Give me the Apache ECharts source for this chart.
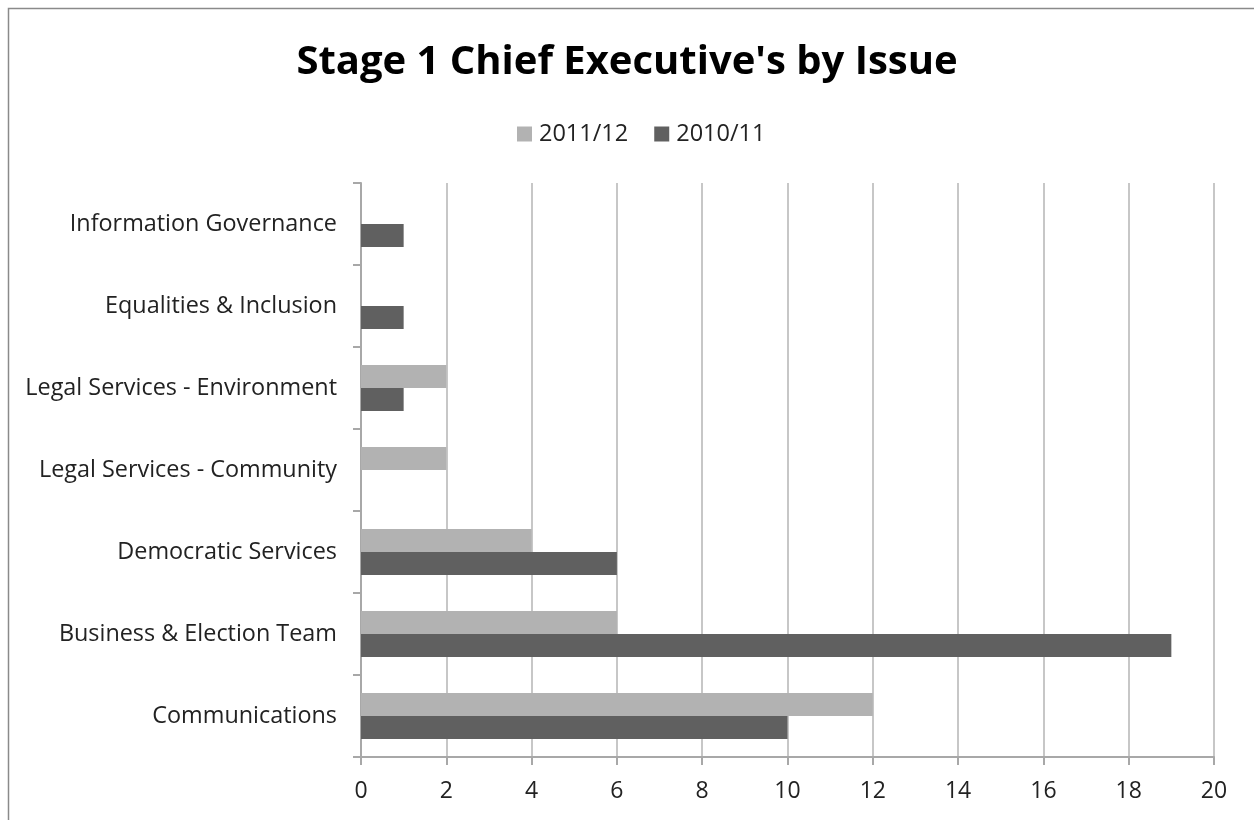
<!DOCTYPE html>
<html>
<head>
<meta charset="utf-8">
<script src="https://cdn.jsdelivr.net/npm/echarts@6/dist/echarts.min.js"></script>
<style>
html,body{margin:0;padding:0;background:#fff;}
#c{width:1254px;height:820px;}
</style>
</head>
<body>
<div id="c"></div>
<script>
const categories = ['Communications', 'Business & Election Team', 'Democratic Services', 'Legal Services - Community', 'Legal Services - Environment', 'Equalities & Inclusion', 'Information Governance'];
const series2011 = [12, 6, 4, 2, 2, 0, 0];
const series2010 = [10, 19, 6, 0, 1, 1, 1];
const xTicks = [0, 2, 4, 6, 8, 10, 12, 14, 16, 18, 20];

const chart = echarts.init(document.getElementById('c'), null, {renderer: 'canvas'});
const font = "'Open Sans', 'Noto Sans', sans-serif";
chart.setOption({
  animation: false,
  backgroundColor: '#fff',
  title: {
    text: "Stage 1 Chief Executive's by Issue",
    left: 'center', top: 38,
    textStyle: {fontFamily: font, fontWeight: 'bold', fontSize: 40, color: '#000'}
  },
  graphic: [{
    type: 'rect', shape: {x: 8.5, y: 8.5, width: 1300, height: 900},
    style: {fill: null, stroke: '#8a8a8a', lineWidth: 1.5}, silent: true
  }],
  legend: {
    top: 117, left: 512,
    itemWidth: 15, itemHeight: 15, itemGap: 26,
    icon: 'rect',
    textStyle: {fontFamily: font, fontSize: 23.5, color: '#222', padding: [0, 0, 0, 2]},
    data: ['2011/12', '2010/11']
  },
  grid: {left: 361, right: 40, top: 183, bottom: 63, containLabel: false},
  xAxis: {
    type: 'value', min: 0, max: 20, interval: 2,
    axisLine: {show: true, lineStyle: {color: '#a8a8a8', width: 2}},
    axisTick: {show: true, length: 8, lineStyle: {color: '#a8a8a8', width: 2}},
    splitLine: {show: true, lineStyle: {color: '#b4b4b4', width: 1.5}},
    axisLabel: {fontFamily: font, fontSize: 23, color: '#222', margin: 23,
      formatter: v => xTicks.includes(v) ? String(v) : ''}
  },
  yAxis: {
    type: 'category', data: categories,
    axisLine: {show: true, lineStyle: {color: '#a8a8a8', width: 2}},
    axisTick: {show: true, length: 8, lineStyle: {color: '#a8a8a8', width: 2}},
    axisLabel: {fontFamily: font, fontSize: 23.4, color: '#222', margin: 24}
  },
  series: [
    {name: '2011/12', type: 'bar', data: series2011, barWidth: 23, barGap: '0%', barCategoryGap: '44%',
     itemStyle: {color: '#b2b2b2'}},
    {name: '2010/11', type: 'bar', data: series2010, barWidth: 23, barGap: '0%', barCategoryGap: '44%',
     itemStyle: {color: '#606060'}}
  ]
});
</script>
</body>
</html>
